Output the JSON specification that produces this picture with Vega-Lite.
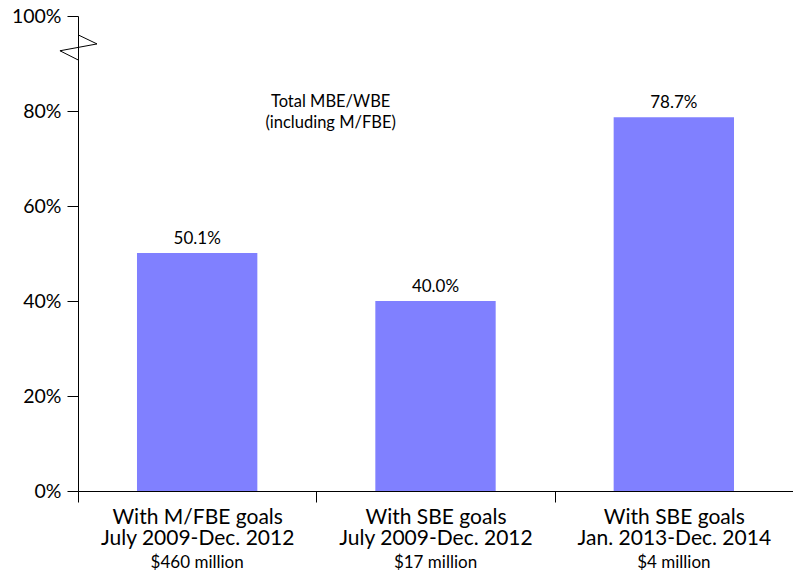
{
  "$schema": "https://vega.github.io/schema/vega-lite/v6.json",
  "width": 715,
  "height": 475,
  "autosize": {"type": "none"},
  "padding": {"left": 78, "top": 16, "right": 0, "bottom": 83},
  "config": {"view": {"stroke": null}, "font": "Lato", "text": {"color": "black"}},
  "data": {
    "values": [
      {"cat": "With M/FBE goals|July 2009-Dec. 2012", "amount": "$460 million", "value": 0.501, "label": "50.1%"},
      {"cat": "With SBE goals|July 2009-Dec. 2012", "amount": "$17 million", "value": 0.400, "label": "40.0%"},
      {"cat": "With SBE goals|Jan. 2013-Dec. 2014", "amount": "$4 million", "value": 0.787, "label": "78.7%"}
    ]
  },
  "encoding": {
    "x": {
      "field": "cat",
      "type": "nominal",
      "sort": null,
      "scale": {"paddingInner": 0, "paddingOuter": 0},
      "axis": {
        "title": null,
        "labelAngle": 0,
        "labelExpr": "split(datum.label, '|')",
        "labelFontSize": 21,
        "labelLineHeight": 21.5,
        "labelLimit": 400,
        "labelColor": "black",
        "labelPadding": 4,
        "labelBaseline": "top",
        "tickBand": "extent",
        "tickSize": 11,
        "tickColor": "black",
        "domainColor": "black",
        "grid": false
      }
    }
  },
  "layer": [
    {
      "mark": {"type": "bar", "color": "#8080FF", "width": {"band": 0.505}},
      "encoding": {
        "y": {
          "field": "value",
          "type": "quantitative",
          "scale": {"domain": [0, 1]},
          "axis": {
            "title": null,
            "format": ".0%",
            "values": [0, 0.2, 0.4, 0.6, 0.8, 1],
            "grid": false,
            "tickSize": 11,
            "tickColor": "black",
            "domainColor": "black",
            "labelFontSize": 19.5,
            "labelColor": "black",
            "labelPadding": 6
          }
        }
      }
    },
    {
      "mark": {"type": "text", "baseline": "bottom", "dy": -5, "fontSize": 17},
      "encoding": {
        "y": {"field": "value", "type": "quantitative"},
        "text": {"field": "label"}
      }
    },
    {
      "mark": {"type": "text", "baseline": "alphabetic", "dy": 77, "fontSize": 17},
      "encoding": {
        "y": {"datum": 0},
        "text": {"field": "amount"}
      }
    },
    {
      "data": {
        "values": [
          {"cat": "With SBE goals|July 2009-Dec. 2012", "y": 0.819, "note": "Total MBE/WBE"},
          {"cat": "With SBE goals|July 2009-Dec. 2012", "y": 0.775, "note": "(including M/FBE)"}
        ]
      },
      "mark": {"type": "text", "baseline": "middle", "fontSize": 16.5},
      "encoding": {
        "x": {"field": "cat", "type": "nominal", "sort": null, "bandPosition": 0.06},
        "y": {"field": "y", "type": "quantitative"},
        "text": {"field": "note"}
      }
    },
    {
      "data": {"values": [{"cat": "With M/FBE goals|July 2009-Dec. 2012", "y": 0.934}]},
      "mark": {
        "type": "point",
        "shape": "M0,-0.66L1,-0.18L-0.95,0.18L0,0.66",
        "size": 1444,
        "filled": false,
        "stroke": "black",
        "strokeWidth": 1,
        "opacity": 1
      },
      "encoding": {
        "x": {"field": "cat", "type": "nominal", "sort": null, "bandPosition": 0},
        "y": {"field": "y", "type": "quantitative"}
      }
    }
  ]
}
